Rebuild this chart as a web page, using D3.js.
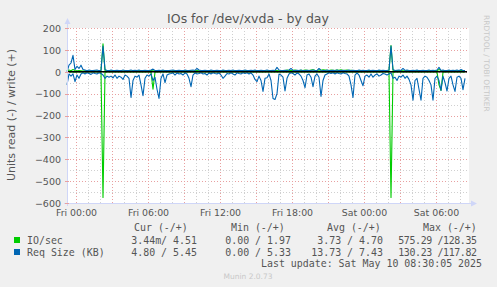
<!DOCTYPE html>
<html><head><meta charset="utf-8">
<script src="https://cdn.jsdelivr.net/npm/d3@7"></script>
<style>body{margin:0;background:#f0f0f0;} svg{display:block} .pre{white-space:pre}</style>
</head><body><svg id="c" width="497" height="287"></svg>
<script>
// ---- data (10-minute samples starting Thu 23:15) ----
const startTime = new Date(2025, 4, 8, 23, 15);
const stepMinutes = 10;
// IO/sec read (plotted below zero)
const ioRead = [
 2,1,1,1,2,1,1,1,1,1,  1,1,1,1,1,1,1,1,575,2,
 1,1,1,1,1,1,1,1,1,1,  1,1,1,1,1,1,1,1,1,1,
 1,1,2,80,2,1,1,1,1,1, 1,1,1,1,1,1,1,1,1,1,
 1,1,1,1,1,1,1,1,1,1,  1,1,1,1,1,1,1,1,1,1,
 1,1,1,1,1,1,1,1,1,1,  1,1,1,1,1,1,1,1,1,1,
 1,1,1,1,1,1,1,1,1,1,  1,1,1,1,1,1,1,1,1,1,
 1,1,1,1,1,1,1,1,1,1,  1,1,1,1,1,1,1,1,1,1,
 1,1,1,1,1,1,1,1,1,1,  1,1,1,1,1,1,1,1,1,1,
 1,1,575,2,1,1,1,1,1,1, 1,1,1,1,1,1,1,1,1,1,
 1,1,1,1,1,1,60,85,2,1, 1,1,1,1,1,1,1,1,1,1
];
// IO/sec write (plotted above zero)
const ioWrite = [
 4,8,5,10,6,4,5,4,3,4,  4,3,4,5,4,3,4,5,128,5,
 4,3,4,4,5,3,4,4,3,4,   4,5,3,4,4,3,5,4,4,3,
 4,4,5,4,3,4,4,5,4,3,   4,4,3,4,5,4,4,3,4,4,
 5,4,4,3,4,6,4,4,3,4,   4,5,4,3,4,4,3,4,5,4,
 4,3,4,4,5,4,3,4,4,4,   5,4,4,3,4,5,4,4,3,4,
 4,5,4,4,6,5,4,4,5,6,   8,6,5,7,8,6,5,7,6,8,
 7,6,8,9,7,6,8,7,9,8,   7,6,8,7,6,8,7,9,6,7,
 8,6,7,5,6,5,4,5,4,5,   4,5,4,5,4,4,5,4,5,4,
 4,5,120,6,4,5,4,5,4,4, 5,4,5,4,4,5,4,5,4,4,
 5,4,5,4,4,5,10,6,4,5,  4,5,4,4,5,4,4,5,4,4
];
// Req Size (KB) read (plotted below zero)
const sizeRead = [
 60,10,20,10,45,15,30,10,5,10, 5,8,12,5,8,10,5,8,15,30,
 20,25,20,28,15,30,20,25,35,15, 20,30,118,40,20,25,15,60,109,30,
 15,20,10,40,25,80,122,30,10,50, 15,10,8,5,15,5,10,8,15,5,
 10,30,68,15,5,10,8,5,10,8, 15,5,10,5,8,10,5,15,30,20,
 8,10,5,10,15,5,8,10,5,8, 5,10,5,15,35,45,20,40,90,30,
 27,10,40,122,127,100,10,15,25,88, 30,10,5,8,15,5,10,20,40,73,
 15,10,25,68,20,10,25,113,40,15, 10,5,8,5,10,5,8,10,5,8,
 10,20,60,118,15,5,15,40,64,20, 15,25,10,25,15,10,20,15,8,10,
 15,10,5,30,25,40,20,25,15,30, 20,35,60,130,40,30,80,130,30,20,
 25,40,60,130,30,20,40,85,20,50, 88,30,20,60,90,25,20,30,82,30
];
// Req Size (KB) write (plotted above zero)
const sizeWrite = [
 0,30,40,75,10,25,15,30,10,8, 5,8,6,5,7,8,5,6,118,10,
 6,5,8,6,5,7,6,5,8,6, 5,6,8,5,7,6,8,5,6,7,
 5,6,8,12,6,5,7,6,8,5, 6,5,7,8,6,5,7,6,5,8,
 6,5,7,8,6,15,8,6,5,7, 6,5,8,6,5,7,6,5,8,6,
 5,7,6,8,5,6,7,5,6,8, 6,5,7,6,8,5,6,7,5,6,
 8,6,5,7,6,20,8,6,5,7, 6,8,15,6,5,7,6,8,5,6,
 7,5,6,8,6,5,15,7,6,5, 8,6,5,7,6,8,5,6,7,5,
 6,8,5,7,6,5,8,6,7,5, 6,8,5,7,6,5,8,6,7,5,
 6,8,118,10,6,7,8,6,15,6, 8,6,5,7,6,8,5,6,7,5,
 6,8,5,7,6,8,20,6,8,5, 6,8,5,7,6,8,5,10,6,5
];
const yTickValues = [200,100,0,-100,-200,-300,-400,-500,-600];
const legendHeaders = ["Cur (-/+)","Min (-/+)","Avg (-/+)","Max (-/+)"];
const legendNames = ["IO/sec","Req Size (KB)"];
const legendColors = ["#00cc00","#0066b3"];
const legendRead = [["3.44m","0.00","3.73","575.29"],["4.80","0.00","13.73","130.23"]];
const legendWrite = [["4.51","1.97","4.70","128.35"],["5.45","5.33","7.43","117.82"]];
const titleText = "IOs for /dev/xvda - by day";
const yLabel = "Units read (-) / write (+)";
const lastUpdate = "Last update: Sat May 10 08:30:05 2025";

// ---- chart ----
const svg = d3.select("#c");
const L = 67, R = 467, T = 28, B = 203;
const times = sizeRead.map((_, i) => new Date(startTime.getTime() + i * stepMinutes * 60000));
const x = d3.scaleTime().domain([startTime, new Date(2025,4,10,8,35)]).range([L, R]);
const y = d3.scaleLinear().domain([-600, 200]).range([B, T]);

svg.append("rect").attr("width",497).attr("height",287).attr("fill","#f0f0f0");
svg.append("rect").attr("x",L).attr("y",T).attr("width",R-L+2).attr("height",B-T).attr("fill","#ffffff");

const grid = svg.append("g");
d3.range(-550, 200, 50).filter(v => v % 100 !== 0).forEach(v => {
  grid.append("line").attr("x1",L).attr("x2",R+2).attr("y1",Math.round(y(v))+0.5).attr("y2",Math.round(y(v))+0.5)
    .attr("stroke","#d0d0d0").attr("stroke-dasharray","1,2");
});
yTickValues.forEach(v => {
  grid.append("line").attr("x1",L).attr("x2",R+2).attr("y1",Math.round(y(v))+0.5).attr("y2",Math.round(y(v))+0.5)
    .attr("stroke","#e8a0a0").attr("stroke-dasharray","1,2");
});
x.ticks(d3.timeHour.every(1)).forEach(t => {
  const major = t.getHours() % 3 === 0;
  grid.append("line").attr("x1",Math.round(x(t))+0.5).attr("x2",Math.round(x(t))+0.5).attr("y1",T).attr("y2",B)
    .attr("stroke", major ? "#e8a0a0" : "#d0d0d0").attr("stroke-dasharray","1,2");
});

function drawLine(vals, sign, color) {
  const line = d3.line().x((d,i) => x(times[i])).y(d => y(sign * d));
  svg.append("path").datum(vals).attr("d", line).attr("fill","none")
    .attr("stroke", color).attr("stroke-width", 1.1).attr("stroke-linejoin","round");
}
drawLine(ioRead, -1, "#00cc00");
drawLine(ioWrite, 1, "#00cc00");
drawLine(sizeRead, -1, "#0066b3");
drawLine(sizeWrite, 1, "#0066b3");

svg.append("line").attr("x1",L).attr("x2",R).attr("y1",y(0)).attr("y2",y(0)).attr("stroke","#000").attr("stroke-width",1.3);

const axisCol = "#cfd6f8";
svg.append("line").attr("x1",L+0.5).attr("x2",L+0.5).attr("y1",B+3).attr("y2",T-6).attr("stroke",axisCol);
svg.append("path").attr("d",`M${L-2.5},${T-4} L${L+3.5},${T-4} L${L+0.5},${T-10} Z`).attr("fill",axisCol);
svg.append("line").attr("x1",L-3).attr("x2",R+6).attr("y1",B+0.5).attr("y2",B+0.5).attr("stroke",axisCol);
svg.append("path").attr("d",`M${R+4},${B-2.5} L${R+4},${B+3.5} L${R+10},${B+0.5} Z`).attr("fill",axisCol);

yTickValues.forEach(v => {
  svg.append("line").attr("x1",L-2).attr("x2",L+2).attr("y1",Math.round(y(v))+0.5).attr("y2",Math.round(y(v))+0.5).attr("stroke","#e8a0a0");
});

const yAxis = d3.axisLeft(y).tickValues(yTickValues).tickSize(0).tickPadding(0).tickFormat(d3.format("d"));
const ga = svg.append("g").attr("transform",`translate(${L-6},0)`).call(yAxis);
ga.select(".domain").remove();
ga.selectAll("text").attr("font-family","DejaVu Sans").attr("font-size","9.5px").attr("fill","#555").attr("dy","0.35em");

const xAxis = d3.axisBottom(x).ticks(d3.timeHour.every(6)).tickSize(0).tickPadding(0).tickFormat(d3.timeFormat("%a %H:%M"));
const gx = svg.append("g").attr("transform",`translate(0,${B+13})`).call(xAxis);
gx.select(".domain").remove();
gx.selectAll("text").attr("font-family","DejaVu Sans").attr("font-size","9.4px").attr("fill","#555").attr("dy","0");

svg.append("text").attr("x",248).attr("y",22.5).attr("text-anchor","middle")
  .attr("font-family","DejaVu Sans").attr("font-size","12.5px").attr("fill","#555").text(titleText);
svg.append("text").attr("transform","translate(15,115) rotate(-90)").attr("text-anchor","middle")
  .attr("font-family","DejaVu Sans").attr("font-size","11px").attr("fill","#555").text(yLabel);
svg.append("text").attr("transform","translate(484,15) rotate(90)").attr("text-anchor","start")
  .attr("font-family","DejaVu Sans").attr("font-size","7.5px").attr("fill","#c8c8c8").text("RRDTOOL / TOBI OETIKER");

// legend
const mono = "DejaVu Sans Mono", fs = "9.93px", cw = 5.98;
const colEnds = [197, 291, 383, 477];
const headerStarts = [134, 231, 327, 423];
legendHeaders.forEach((h,i) => {
  svg.append("text").attr("x",headerStarts[i]).attr("y",231).attr("font-family",mono).attr("font-size",fs).attr("fill","#555").text(h);
});
legendNames.forEach((n, r) => {
  const by = 244 + r*12;
  svg.append("rect").attr("x",14).attr("y",by-7).attr("width",6).attr("height",6).attr("fill",legendColors[r]);
  svg.append("text").attr("x",27).attr("y",by).attr("font-family",mono).attr("font-size",fs).attr("fill","#555").text(n);
  colEnds.forEach((e, c) => {
    const cellStart = e - 13*cw;
    const rd = legendRead[r][c];
    const wr = legendWrite[r][c];
    const suffix = rd.endsWith("m") ? "m" : " ";
    const num = rd.replace("m","");
    const t = svg.append("text").attr("class","pre").attr("y",by)
      .attr("font-family",mono).attr("font-size",fs).attr("fill","#555");
    if (wr.length >= 6) {
      // write field fills its slot: the slash shares a cell with the first digit
      const s = num + suffix + "/" + wr;
      t.attr("x", e).attr("text-anchor","end")
        .attr("textLength", (s.length - 1) * cw + 1).attr("lengthAdjust","spacing").text(s);
    } else {
      t.append("tspan").attr("x",cellStart + 7*cw).attr("text-anchor","end").text(num + suffix);
      t.append("tspan").attr("x",cellStart + 7*cw).attr("text-anchor","start").text("/");
      t.append("tspan").attr("x",e).attr("text-anchor","end").text(wr);
    }
  });
});
svg.append("text").attr("x",482).attr("y",267).attr("text-anchor","end").attr("font-family",mono).attr("font-size",fs).attr("fill","#555").text(lastUpdate);
svg.append("text").attr("x",248).attr("y",279).attr("text-anchor","middle").attr("font-family","DejaVu Sans").attr("font-size","7.5px").attr("fill","#c8c8c8").text("Munin 2.0.73");
</script></body></html>
